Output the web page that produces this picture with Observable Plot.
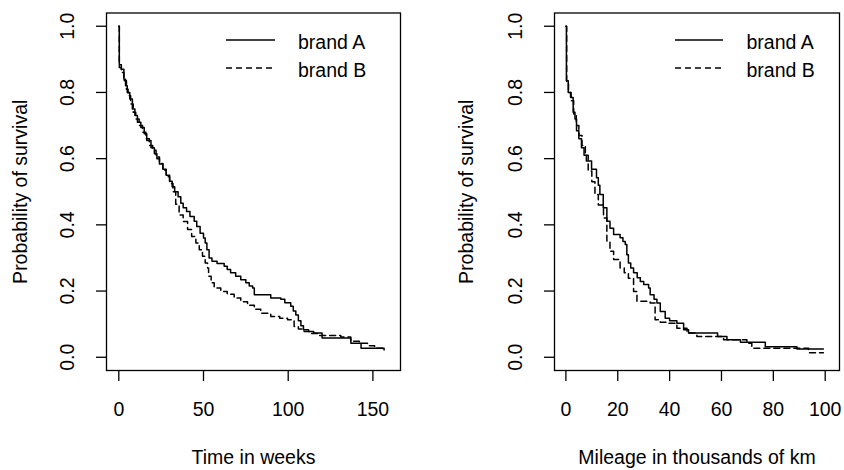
<!DOCTYPE html>
<html>
<head>
<meta charset="utf-8">
<script src="https://cdn.jsdelivr.net/npm/d3@7"></script>
<script src="https://cdn.jsdelivr.net/npm/@observablehq/plot@0.6"></script>
<style>
  html, body { margin: 0; padding: 0; background: #fff; }
  #wrap { position: relative; width: 844px; height: 470px; overflow: hidden; }
  #wrap > svg { position: absolute; top: 0; }
</style>
</head>
<body>
<div id="wrap"></div>
<script>
// ---- data ----
const brands = ["brand A", "brand B"];
const yTicks = [0, 0.2, 0.4, 0.6, 0.8, 1.0];
const weekTicks = [0, 50, 100, 150];
const kmTicks = [0, 20, 40, 60, 80, 100];

// Left panel: time in weeks
const weeksA = [0, 0.3, 1.5, 3, 4, 5, 6.5, 8, 9.5, 11, 13, 15, 16.5, 19, 21, 22.5, 24, 26, 28, 30, 31.5, 33, 35, 36.6, 38, 40, 42, 44.5, 46, 48, 50, 51, 52, 53.3, 55, 58, 62.2, 64, 66, 69, 72, 75, 77, 79, 80, 89.7, 95.6, 98, 101.5, 103, 104.5, 106, 107.5, 109, 112, 115, 120, 137, 143, 156.6];
const survWeeksA = [1.0, 0.884, 0.87, 0.84, 0.82, 0.80, 0.78, 0.75, 0.73, 0.71, 0.694, 0.675, 0.655, 0.633, 0.615, 0.60, 0.584, 0.568, 0.55, 0.532, 0.515, 0.50, 0.485, 0.465, 0.452, 0.44, 0.425, 0.411, 0.395, 0.375, 0.36, 0.345, 0.325, 0.30, 0.29, 0.283, 0.275, 0.265, 0.255, 0.245, 0.234, 0.225, 0.215, 0.209, 0.189, 0.179, 0.175, 0.165, 0.154, 0.14, 0.128, 0.11, 0.095, 0.083, 0.078, 0.073, 0.058, 0.042, 0.027, 0.022];
const weeksB = [0, 0.3, 1.5, 3, 4.5, 5.5, 7, 8.5, 10, 12, 14, 16, 18, 20, 22, 24, 26, 28, 30, 32, 33.6, 35.6, 38, 40.6, 43, 45.5, 47.5, 49.4, 51, 52.4, 53, 54.5, 56.3, 60.2, 64, 68.1, 72, 76, 80, 83.8, 89.7, 95, 99.6, 103.5, 106, 109.4, 113, 117.3, 131, 136.9, 142, 146.8, 151, 155.7];
const survWeeksB = [1.0, 0.875, 0.86, 0.835, 0.81, 0.79, 0.765, 0.74, 0.72, 0.70, 0.68, 0.66, 0.64, 0.625, 0.605, 0.585, 0.565, 0.545, 0.525, 0.50, 0.462, 0.43, 0.41, 0.386, 0.365, 0.345, 0.325, 0.305, 0.285, 0.27, 0.245, 0.225, 0.209, 0.199, 0.19, 0.179, 0.168, 0.157, 0.145, 0.133, 0.123, 0.118, 0.113, 0.093, 0.085, 0.078, 0.072, 0.066, 0.061, 0.048, 0.042, 0.035, 0.027, 0.022];

// Right panel: mileage in thousands of km
const kmA = [0, 0.2, 0.9, 1.8, 2.8, 3.5, 4.1, 5, 6, 7, 7.9, 9.9, 11.8, 12.5, 13.1, 14.4, 15.8, 17, 18.4, 20.9, 22, 22.9, 23.5, 24.1, 25, 26.1, 27.5, 28.7, 30, 31.9, 32.5, 34, 35.1, 36.4, 38.3, 40, 42.8, 45.4, 47.3, 58.5, 62.1, 67.3, 76.9, 89.1, 99.3];
const survKmA = [1.0, 0.835, 0.80, 0.785, 0.74, 0.72, 0.684, 0.66, 0.633, 0.61, 0.593, 0.568, 0.542, 0.52, 0.492, 0.452, 0.411, 0.39, 0.371, 0.361, 0.35, 0.341, 0.31, 0.285, 0.27, 0.255, 0.24, 0.229, 0.22, 0.209, 0.189, 0.175, 0.164, 0.138, 0.118, 0.11, 0.103, 0.083, 0.073, 0.063, 0.053, 0.045, 0.032, 0.025, 0.025];
const kmB = [0, 0.3, 1, 2, 3, 4, 5, 6.2, 7.5, 8.6, 10, 11.2, 12.5, 14.5, 15.8, 17, 18.4, 20.9, 22.5, 24.1, 26.1, 27.4, 32.5, 34.4, 36.4, 39, 42.8, 46.7, 50.5, 60.8, 69.8, 71.7, 93.6, 99.3];
const survKmB = [1.0, 0.83, 0.80, 0.775, 0.735, 0.70, 0.67, 0.64, 0.61, 0.563, 0.53, 0.492, 0.46, 0.421, 0.351, 0.32, 0.295, 0.27, 0.255, 0.239, 0.199, 0.169, 0.164, 0.113, 0.106, 0.103, 0.088, 0.073, 0.063, 0.053, 0.042, 0.027, 0.014, 0.014];

const rows = (xs, ss, brand) => xs.map((x, i) => ({x, s: ss[i], brand}));

const FONT = "'Liberation Sans', Arial, sans-serif";
const FS = 19.5;

function panel({marginLeft, marginRight, xDomain, xTicks, xLabel, dataA, dataB, yTitleDx}) {
  return Plot.plot({
    width: 422,
    height: 470,
    marginLeft,
    marginRight,
    marginTop: 12.5,
    marginBottom: 100,
    style: {fontFamily: FONT, fontSize: FS + "px", color: "black", background: "white", overflow: "visible"},
    x: {domain: xDomain},
    y: {domain: [-0.04, 1.04]},
    marks: [
      Plot.frame({stroke: "black", strokeWidth: 1.3}),
      Plot.axisX({ticks: xTicks, tickSize: 11, tickPadding: 21, strokeWidth: 1.3, label: null, tickFormat: d => String(d)}),
      Plot.axisY({ticks: yTicks, tickSize: 10, strokeWidth: 1.3, label: null, tickFormat: () => ""}),
      Plot.text(yTicks, {y: d => d, frameAnchor: "left", dx: -39, rotate: -90, textAnchor: "middle", lineAnchor: "middle", text: d3.format(".1f")}),
      Plot.text([xLabel], {frameAnchor: "bottom", dy: 87, lineAnchor: "middle", textAnchor: "middle", text: d => d}),
      Plot.text(["Probability of survival"], {frameAnchor: "left", dx: yTitleDx, rotate: -90, textAnchor: "middle", lineAnchor: "middle", text: d => d}),
      Plot.line(dataA, {x: "x", y: "s", curve: "step-after", stroke: "black", strokeWidth: 1.5}),
      Plot.line(dataB, {x: "x", y: "s", curve: "step-after", stroke: "black", strokeWidth: 1.5, strokeDasharray: "6,4"})
    ]
  });
}

const wrap = document.getElementById("wrap");

const left = panel({
  marginLeft: 106, marginRight: 22,
  xDomain: [(106 - 118.3) / 1.694, (400 - 118.3) / 1.694],
  xTicks: weekTicks, xLabel: "Time in weeks",
  dataA: rows(weeksA, survWeeksA, brands[0]),
  dataB: rows(weeksB, survWeeksB, brands[1]),
  yTitleDx: -86
});
left.style.left = "0px";
wrap.appendChild(left);

const right = panel({
  marginLeft: 132, marginRight: 5,
  xDomain: [(554.3 - 565.7) / 2.593, (839.3 - 565.7) / 2.593],
  xTicks: kmTicks, xLabel: "Mileage in thousands of km",
  dataA: rows(kmA, survKmA, brands[0]),
  dataB: rows(kmB, survKmB, brands[1]),
  yTitleDx: -87.3
});
right.style.left = "422px";
wrap.appendChild(right);

// Legends (inside each panel, top right)
const leg = d3.select(wrap).append("svg")
  .attr("width", 844).attr("height", 470)
  .style("position", "absolute").style("left", "0px").style("top", "0px")
  .style("pointer-events", "none");
const legendOrigins = [{x1: 226, x2: 275, tx: 298}, {x1: 675, x2: 723, tx: 746.5}];
legendOrigins.forEach(o => {
  brands.forEach((b, i) => {
    const y = 40 + i * 28;
    leg.append("line")
      .attr("x1", o.x1).attr("x2", o.x2).attr("y1", y).attr("y2", y)
      .attr("stroke", "black").attr("stroke-width", 1.5)
      .attr("stroke-dasharray", i === 0 ? null : "6,4");
    leg.append("text")
      .attr("x", o.tx).attr("y", y + 1.7).attr("dy", "0.35em")
      .attr("font-family", FONT).attr("font-size", FS)
      .attr("fill", "black")
      .text(b);
  });
});
</script>
</body>
</html>
